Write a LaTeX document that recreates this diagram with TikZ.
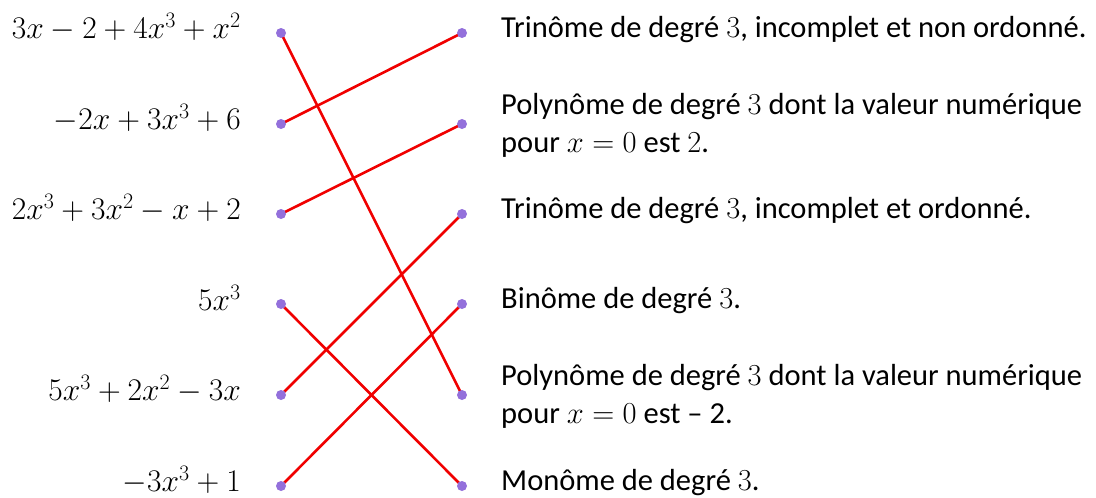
\RequirePackage{fix-cm}
\documentclass[tikz,border=0pt]{standalone}
\usepackage{fontspec}
\setmainfont{Carlito}
\pgfdeclarelayer{bg}
\pgfsetlayers{bg,main}
\definecolor{dotpurple}{HTML}{9370DB}
\definecolor{linkred}{HTML}{F00000}
\tikzset{
  dotnode/.style={circle,fill=dotpurple,inner sep=0pt,minimum size=10pt},
  expr/.style={anchor=east,inner sep=0pt,font=\fontsize{31.5}{36}\selectfont},
  desc/.style={anchor=west,inner sep=0pt,align=left,font=\fontsize{30.5}{38}\selectfont},
  link/.style={draw=linkred,line width=2.6pt}
}
\begin{document}
\begin{tikzpicture}[x=1pt,y=-1pt]
\useasboundingbox (0,0) rectangle (1096,498);
% dots
\foreach \i/\y in {1/33,2/124,3/214,4/304,5/395,6/486}{
  \node[dotnode] (l\i) at (281,\y) {};
  \node[dotnode] (r\i) at (462,\y) {};
}
% left expressions
\node[expr] (e1) at (241,27) {$3x-2+4x^3+x^2$};
\node[expr] (e2) at (241,118) {$-2x+3x^3+6$};
\node[expr] (e3) at (241,208) {$2x^3+3x^2-x+2$};
\node[expr] (e4) at (241,298) {$5x^3$};
\node[expr] (e5) at (241,389) {$5x^3+2x^2-3x$};
\node[expr] (e6) at (241,480) {$-3x^3+1$};
% right descriptions
\node[desc] (d1) at (501,30) {Trinôme de degré $3$, incomplet et non ordonné.};
\node[desc] (d2) at (501,125) {Polynôme de degré $3$ dont la valeur numérique\\pour $x=0$ est $2$.};
\node[desc] (d3) at (501,211) {Trinôme de degré $3$, incomplet et ordonné.};
\node[desc] (d4) at (501,301) {Binôme de degré $3$.};
\node[desc] (d5) at (501,396) {Polynôme de degré $3$ dont la valeur numérique\\pour $x=0$ est – 2.};
\node[desc] (d6) at (501,483) {Monôme de degré $3$.};
% links
\begin{pgfonlayer}{bg}
\draw[link] (l1.center) -- (r5.center);
\draw[link] (l2.center) -- (r1.center);
\draw[link] (l3.center) -- (r2.center);
\draw[link] (l4.center) -- (r6.center);
\draw[link] (l5.center) -- (r3.center);
\draw[link] (l6.center) -- (r4.center);
\end{pgfonlayer}
\end{tikzpicture}
\end{document}
